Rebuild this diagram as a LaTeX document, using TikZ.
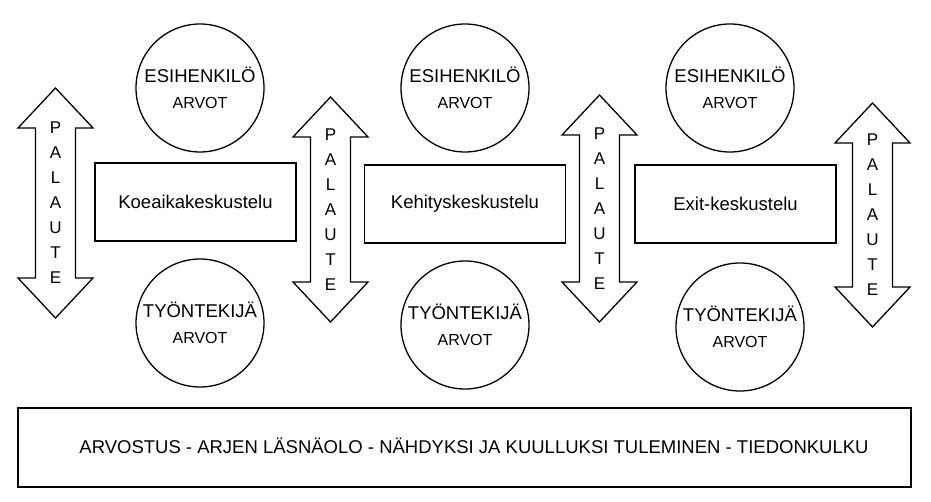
\documentclass[tikz,border=0pt]{standalone}
\usepackage{fontspec}
\setmainfont{Liberation Sans}
\begin{document}
\begin{tikzpicture}[x=1pt,y=-1pt,line width=1.3pt,
  circ/.style={draw,circle,minimum size=128pt,inner sep=0pt,align=center},
  box/.style={draw,minimum width=201pt,minimum height=78pt,font=\fontsize{18.5}{22}\selectfont},
  lt/.style={font=\fontsize{17}{25}\selectfont,align=center}]
\useasboundingbox (0,0) rectangle (931,502);
\newcommand{\darr}[4]{% x center, top, bottom, name
  \draw (#1,#2) -- (#1+37.5,#2+40) -- (#1+20,#2+40) -- (#1+20,#3-40) -- (#1+37.5,#3-40) -- (#1,#3) -- (#1-37.5,#3-40) -- (#1-20,#3-40) -- (#1-20,#2+40) -- (#1-37.5,#2+40) -- cycle;
  \node[lt] (#4) at (#1,{(#2+#3)/2}) {P\\A\\L\\A\\U\\T\\E};}
\newcommand{\ctext}[1]{\fontsize{18.5}{22}\selectfont #1\\[14pt]\fontsize{16}{18}\selectfont ARVOT}
\foreach \x/\n in {200/a,465/b,730/c}{
  \node[circ] (t\n) at (\x,88) {\ctext{ESIHENKILÖ}};
}
\node[circ] (ua) at (200,323) {\ctext{TYÖNTEKIJÄ}};
\node[circ] (ub) at (465,325) {\ctext{TYÖNTEKIJÄ}};
\node[circ] (uc) at (740,327) {\ctext{TYÖNTEKIJÄ}};
\node[box] (ba) at (195.5,202) {Koeaikakeskustelu};
\node[box] (bb) at (465,204) {Kehityskeskustelu};
\node[box] (bc) at (735.5,204) {Exit-keskustelu};
\darr{55.5}{88}{318}{p1}
\darr{330.5}{97}{322}{p2}
\darr{599.5}{95}{322}{p3}
\darr{872.5}{103}{327}{p4}
\node[draw,minimum width=893pt,minimum height=79pt] (bot) at (464.5,447.5) {};
\node[font=\fontsize{18.5}{22}\selectfont] (bt) at (474,446) {ARVOSTUS - ARJEN LÄSNÄOLO - NÄHDYKSI JA KUULLUKSI TULEMINEN - TIEDONKULKU};
\end{tikzpicture}
\end{document}
